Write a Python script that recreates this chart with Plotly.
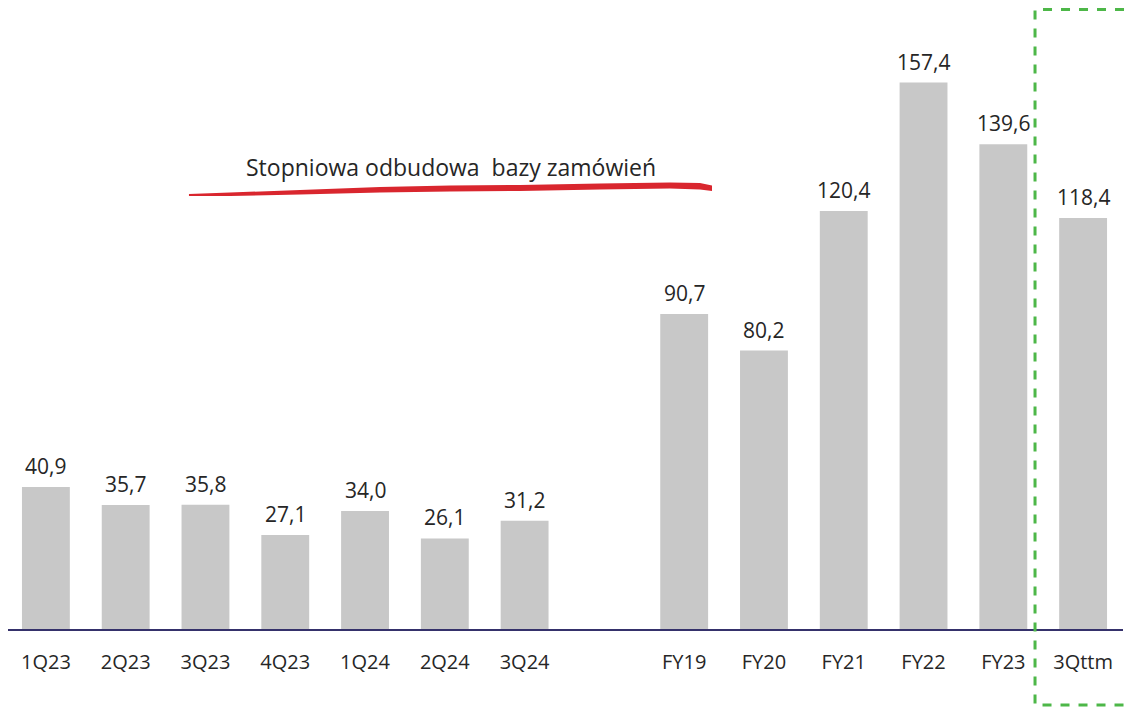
import plotly.graph_objects as go

# chart data
CATEGORIES = ["1Q23", "2Q23", "3Q23", "4Q23", "1Q24", "2Q24", "3Q24", " ",
              "FY19", "FY20", "FY21", "FY22", "FY23", "3Qttm"]
VALUES = [40.9, 35.7, 35.8, 27.1, 34.0, 26.1, 31.2, None,
          90.7, 80.2, 120.4, 157.4, 139.6, 118.4]
NOTE = "Stopniowa odbudowa  bazy zamówień"

OFF = 8  # page body margin; positions below are measured on the page
W, H = 1140 - OFF, 707 - OFF
AX_START = 6 - OFF        # axis start in figure px (left of the figure)
AX_END = 1123 - OFF       # axis end in figure px
BASE = 629 - OFF          # baseline in figure px
SLOT = (AX_END - AX_START) / 14
SCALE = 3.472             # px per unit

ML, MR, MB = 0, W - AX_END, H - BASE
PW, PH = AX_END - ML, BASE

FONT = "Open Sans"
TXT = "#262626"


def paper(px, py):
    # page pixel position -> paper coords
    px, py = px - OFF, py - OFF
    return (px - ML) / PW, (BASE - py) / PH


def path_of(points, close=True):
    pts = [paper(x, y) for x, y in points]
    d = "M " + " L ".join(f"{x:.4f},{y:.4f}" for x, y in pts)
    return d + " Z" if close else d


fig = go.Figure()
fig.add_trace(go.Bar(
    x=CATEGORIES,
    y=VALUES,
    marker=dict(color="#C8C8C8", line=dict(width=0)),
    width=0.6,
    hoverinfo="skip",
))

# value labels
for c, v in zip(CATEGORIES, VALUES):
    if v is None:
        continue
    fig.add_annotation(x=c, y=v, text=f"{v:.1f}".replace(".", ","), showarrow=False,
                       yshift=21, yanchor="middle",
                       font=dict(family=FONT, size=21, color=TXT))

# red brush stroke under the note
top = [(189, 194), (230, 192.5), (300, 190), (380, 187), (450, 185.5), (520, 185),
       (600, 183.5), (670, 182.5), (700, 183), (712, 185.5)]
bot = [(189, 196), (230, 196), (300, 194.5), (380, 192.5), (450, 191.5), (520, 191),
       (600, 189.5), (670, 188.5), (700, 189.5), (712, 191)]
fig.add_shape(type="path", xref="paper", yref="paper", path=path_of(top + bot[::-1]),
              fillcolor="#D9262E", line=dict(width=0), layer="above")

# dashed frame around last bar (open on the right, runs off the page)
frame = [(1160, OFF + 1.5), (1035, OFF + 1.5), (1035, 705), (1160, 705)]
fig.add_shape(type="path", xref="paper", yref="paper", path=path_of(frame, close=False),
              line=dict(color="#4DB748", width=3, dash="dash"), fillcolor="rgba(0,0,0,0)")

nx, ny = paper(451, 167)
fig.add_annotation(x=nx, y=ny, xref="paper", yref="paper", text=NOTE, showarrow=False,
                   font=dict(family=FONT, size=23, color=TXT),
                   xanchor="center", yanchor="middle")

fig.update_layout(
    width=W, height=H,
    margin=dict(l=ML, r=MR, t=0, b=MB, pad=0),
    plot_bgcolor="white", paper_bgcolor="white",
    showlegend=False,
    xaxis=dict(
        type="category",
        range=[-0.5 + (ML - AX_START) / SLOT, 13.5],
        showgrid=False,
        showline=True, linecolor="#35316B", linewidth=2,
        ticks="", ticklen=0,
        ticklabelstandoff=14,
        tickfont=dict(family=FONT, size=20, color=TXT),
        fixedrange=True,
    ),
    yaxis=dict(
        range=[0, PH / SCALE],
        visible=False,
        showgrid=False,
        zeroline=False,
        fixedrange=True,
    ),
)

fig.write_html("out.html")
